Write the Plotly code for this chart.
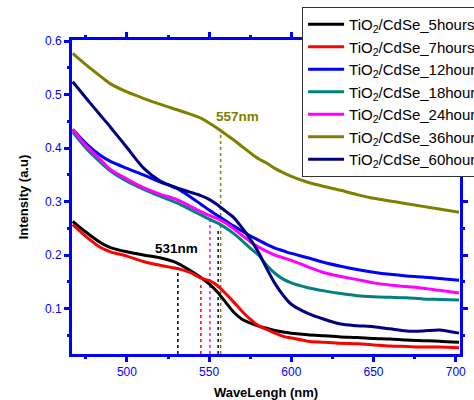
import plotly.graph_objects as go

wavelength = [467, 475, 484, 490, 500, 510, 520, 530, 538, 545, 550, 555, 560, 565, 570,
              575, 580, 585, 590, 595, 600, 610, 620, 630, 640, 650, 660, 670, 680, 690, 702]

h5 = [0.263, 0.243, 0.223, 0.214, 0.206, 0.200, 0.195, 0.186, 0.172, 0.158, 0.146, 0.131, 0.112, 0.093, 0.080,
      0.073, 0.067, 0.063, 0.059, 0.056, 0.054, 0.051, 0.049, 0.047, 0.046, 0.044, 0.043, 0.041, 0.040, 0.039, 0.037]
h7 = [0.257, 0.235, 0.214, 0.206, 0.198, 0.188, 0.181, 0.175, 0.168, 0.157, 0.152, 0.143, 0.128, 0.112, 0.095,
      0.080, 0.068, 0.061, 0.054, 0.048, 0.045, 0.039, 0.037, 0.035, 0.034, 0.032, 0.030, 0.029, 0.028, 0.028, 0.0265]
h12 = [0.435, 0.409, 0.386, 0.375, 0.362, 0.350, 0.337, 0.325, 0.310, 0.295, 0.284, 0.274, 0.264, 0.254, 0.245,
       0.236, 0.228, 0.220, 0.213, 0.208, 0.203, 0.195, 0.186, 0.179, 0.173, 0.168, 0.164, 0.161, 0.159, 0.156, 0.153]
h18 = [0.430, 0.400, 0.373, 0.357, 0.338, 0.323, 0.310, 0.298, 0.286, 0.275, 0.267, 0.260, 0.251, 0.240, 0.227,
       0.213, 0.200, 0.181, 0.166, 0.155, 0.148, 0.139, 0.133, 0.128, 0.124, 0.122, 0.121, 0.120, 0.118, 0.117, 0.116]
h24 = [0.435, 0.405, 0.378, 0.360, 0.342, 0.326, 0.314, 0.304, 0.292, 0.281, 0.274, 0.268, 0.260, 0.249, 0.237,
       0.225, 0.215, 0.207, 0.200, 0.195, 0.190, 0.178, 0.167, 0.160, 0.154, 0.148, 0.144, 0.141, 0.138, 0.134, 0.129]
h36 = [0.577, 0.556, 0.534, 0.520, 0.505, 0.493, 0.482, 0.472, 0.464, 0.456, 0.447, 0.437, 0.426, 0.415, 0.403,
       0.391, 0.380, 0.372, 0.362, 0.354, 0.347, 0.336, 0.328, 0.321, 0.313, 0.306, 0.301, 0.296, 0.291, 0.286, 0.280]
h60 = [0.524, 0.494, 0.461, 0.439, 0.401, 0.363, 0.339, 0.326, 0.318, 0.311, 0.304, 0.294, 0.282, 0.270, 0.251,
       0.230, 0.205, 0.175, 0.147, 0.125, 0.108, 0.091, 0.080, 0.071, 0.068, 0.066, 0.062, 0.058, 0.058, 0.060, 0.054]

series_names = ["TiO<sub>2</sub>/CdSe_5hours", "TiO<sub>2</sub>/CdSe_7hours", "TiO<sub>2</sub>/CdSe_12hours",
                "TiO<sub>2</sub>/CdSe_18hours", "TiO<sub>2</sub>/CdSe_24hours", "TiO<sub>2</sub>/CdSe_36hours",
                "TiO<sub>2</sub>/CdSe_60hours"]
series_values = [h5, h7, h12, h18, h24, h36, h60]
series_colors = ["#000000", "#FF0000", "#0000FF", "#008080", "#FF00FF", "#808000", "#000080"]

# dotted peak markers: wavelength, top intensity, colour
peak_nm = [531, 545, 550.5, 555.5, 557]
peak_top = [0.179, 0.150, 0.276, 0.250, 0.425]
peak_colors = ["#000000", "#FF0000", "#FF00FF", "#000080", "#808000"]

labels_text = ["531nm", "557nm"]
labels_x = [530.4, 567]
labels_y = [0.2117, 0.4597]
labels_color = ["#000000", "#808000"]

FONT = "Liberation Sans, Arial, sans-serif"
AXIS_BLUE = "#0000FF"

fig = go.Figure()
for name, vals, col in zip(series_names, series_values, series_colors):
    fig.add_trace(go.Scatter(x=wavelength, y=vals, name=name, mode="lines",
                             line=dict(color=col, width=3, shape="spline", smoothing=0.8)))

shapes = []
for nm, top, col in zip(peak_nm, peak_top, peak_colors):
    shapes.append(dict(type="line", xref="x", yref="y", x0=nm, x1=nm, y0=0.015, y1=top,
                       line=dict(color=col, width=1.5, dash="dot"), layer="below"))

annotations = []
for t, x, y, c in zip(labels_text, labels_x, labels_y, labels_color):
    annotations.append(dict(text="<b>%s</b>" % t, x=x, y=y, xref="x", yref="y", showarrow=False,
                            font=dict(family=FONT, size=13.5, color=c)))

axis_common = dict(showline=True, linecolor=AXIS_BLUE, linewidth=3, mirror="ticks",
                   ticks="outside", tickcolor=AXIS_BLUE, tickwidth=3, ticklen=5,
                   showgrid=False, zeroline=False,
                   tickfont=dict(family=FONT, size=12, color=AXIS_BLUE))

fig.update_layout(
    width=474, height=400,
    margin=dict(l=72, r=14, t=40, b=46, autoexpand=False),
    paper_bgcolor="white", plot_bgcolor="white",
    font=dict(family=FONT, color="black"),
    shapes=shapes, annotations=annotations,
    xaxis=dict(range=[466.6, 702.6], tickmode="array", tickvals=[500, 550, 600, 650, 700],
               minor=dict(tickvals=[475, 525, 575, 625, 675], ticks="outside", ticklen=2,
                          tickwidth=3, tickcolor=AXIS_BLUE),
               title=dict(text="<b>WaveLengh (nm)</b>", font=dict(family=FONT, size=13, color="black"),
                          standoff=11),
               **axis_common),
    yaxis=dict(range=[0.015, 0.602], tickmode="array", tickvals=[0.1, 0.2, 0.3, 0.4, 0.5, 0.6],
               ticktext=["0.1", "0.2", "0.3", "0.4", "0.5", "0.6"],
               minor=dict(tickvals=[0.05, 0.15, 0.25, 0.35, 0.45, 0.55], ticks="outside", ticklen=2,
                          tickwidth=3, tickcolor=AXIS_BLUE),
               title=dict(text="<b>Intensity (a.u)</b>", font=dict(family=FONT, size=13, color="black"),
                          standoff=14),
               **axis_common),
    legend=dict(x=0.593, y=1.105, xanchor="left", yanchor="top",
                bgcolor="white", bordercolor="#333333", borderwidth=1,
                font=dict(family=FONT, size=15, color="black"), itemwidth=36),
    showlegend=True,
)

fig.write_html("out.html")
